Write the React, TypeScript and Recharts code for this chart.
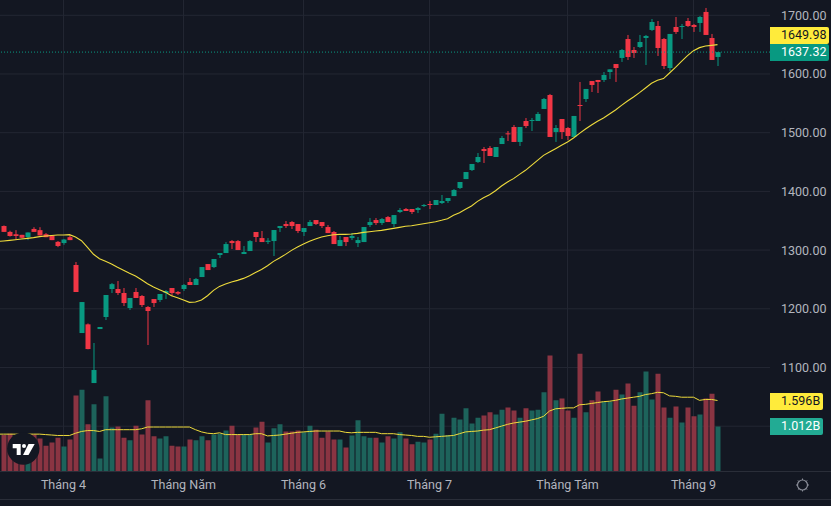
import React from "react";
import {
  ComposedChart,
  Bar,
  Line,
  Cell,
  XAxis,
  YAxis,
  CartesianGrid,
  ReferenceLine,
} from "recharts";

const opens = [
  1341, 1331, 1327, 1326, 1322, 1336, 1334, 1327, 1325, 1314,
  1312, 1322, 1274.6, 1158.7, 1173.5, 1073.5, 1165.5, 1186, 1233.7, 1233.7,
  1226.9, 1201.3, 1228.6, 1221.8, 1203, 1216.6, 1215, 1226.9, 1235.4, 1228.6,
  1233.7, 1245.6, 1240.5, 1254.1, 1276.2, 1271.1, 1291.6, 1295, 1315.4, 1315.4,
  1293.3, 1298.4, 1330.8, 1320.5, 1314, 1315.4, 1337.6, 1344.4, 1347.8, 1344.4,
  1330.8, 1341, 1351.2, 1347.8, 1339.3, 1330.8, 1306.9, 1322.3, 1320.5, 1312,
  1313.7, 1342.7, 1351.2, 1346.1, 1356.3, 1344.4, 1364.9, 1370, 1370, 1368.3,
  1375, 1378.5, 1376.8, 1380.2, 1383.6, 1392, 1405.8, 1421, 1436.4, 1450,
  1472.2, 1473.9, 1458.6, 1480.7, 1498.9, 1509.7, 1484.2, 1519.9, 1519.9, 1519.9,
  1540.4, 1564.2, 1501.2, 1523.3, 1508, 1492.7, 1547.2, 1557.4, 1588, 1589.8,
  1589.8, 1603.4, 1617, 1627.3, 1659.6, 1640.9, 1646, 1661.3, 1675, 1681.8,
  1659.6, 1610.2, 1680.1, 1680.1, 1690.3, 1683.5, 1686.9, 1705.7, 1661.3, 1629,
];
const closes = [
  1331, 1324, 1324, 1321, 1330, 1331, 1325, 1322, 1317, 1307,
  1318, 1317, 1228.6, 1211.5, 1131.4, 1095.7, 1169, 1223.5, 1242, 1226.9,
  1209.8, 1218.4, 1218.4, 1206.4, 1196.2, 1209.8, 1225.2, 1230.3, 1226.9, 1225.7,
  1240.5, 1240.5, 1250.7, 1271.1, 1266, 1284.8, 1295, 1310.3, 1312, 1300.1,
  1296.7, 1315.4, 1322.3, 1313.7, 1316, 1334.2, 1341, 1341, 1341, 1332.5,
  1337.6, 1347.8, 1344.4, 1341, 1329, 1310.3, 1317.1, 1313.7, 1324, 1317.1,
  1339.3, 1347.8, 1346.1, 1352.9, 1347.8, 1359.7, 1368.3, 1366.6, 1364.9, 1371.7,
  1376.8, 1376.8, 1385.3, 1383.6, 1388.7, 1402.3, 1416, 1433, 1446.7, 1458.6,
  1468.8, 1460.3, 1475.6, 1491, 1497.2, 1484.2, 1509.7, 1511.4, 1521.6, 1531.9,
  1557.4, 1492.7, 1508, 1501.2, 1494.4, 1528.5, 1545.5, 1574.5, 1581.3, 1586.4,
  1598.3, 1607.9, 1610.2, 1640.9, 1629, 1635.8, 1654.5, 1664.8, 1688.6, 1644.3,
  1613.6, 1668.2, 1671.6, 1681.8, 1681.8, 1680.1, 1697.1, 1666.5, 1623.9, 1637.32,
];
const highs = [
  1342, 1333, 1334, 1326, 1330, 1339, 1339, 1329, 1325, 1315.5,
  1319, 1326, 1279.7, 1211.5, 1175, 1141.7, 1169, 1223.5, 1243.9, 1247.3,
  1235.4, 1218.4, 1235.4, 1223.5, 1204.7, 1216.6, 1225.2, 1232, 1235.4, 1230.3,
  1242.2, 1252.4, 1252.4, 1271.1, 1276.2, 1284.8, 1295, 1313.7, 1317.1, 1317.1,
  1306.9, 1317, 1330.8, 1332.5, 1320.5, 1334.2, 1341, 1349.5, 1349.5, 1344.4,
  1337.6, 1351.2, 1351.2, 1347.8, 1342.7, 1332.5, 1324, 1322.3, 1329, 1322.3,
  1339.3, 1354.6, 1354.6, 1354.6, 1358, 1359.7, 1371.7, 1371.7, 1370, 1373.4,
  1378.5, 1383.6, 1385.3, 1393.8, 1388.7, 1404, 1416, 1433, 1446.7, 1465.4,
  1475.6, 1477.3, 1475.6, 1494.4, 1502.9, 1513.1, 1509.7, 1525, 1525, 1535.3,
  1559.1, 1566, 1513.1, 1523.3, 1509.7, 1528.5, 1586.4, 1574.5, 1588, 1589.8,
  1603.4, 1607.9, 1617, 1642.6, 1666.5, 1646, 1666.5, 1666.5, 1693.7, 1690.3,
  1661.3, 1668.2, 1697.1, 1685.2, 1695.4, 1685.2, 1698.8, 1712.5, 1668.2, 1637.32,
];
const lows = [
  1331, 1323, 1318, 1320, 1317, 1331, 1325, 1322, 1317, 1305,
  1309, 1317, 1228.6, 1158.7, 1131, 1073.5, 1165.5, 1180.9, 1226.9, 1223.5,
  1204.7, 1197.9, 1218.4, 1203, 1138.3, 1203, 1211.5, 1216.6, 1221.8, 1223.5,
  1230.3, 1240.5, 1240.5, 1254.1, 1266, 1269.4, 1286.5, 1295, 1301.8, 1300.1,
  1293.3, 1298.4, 1313.7, 1313.7, 1310.3, 1289.9, 1330.8, 1337.6, 1335.9, 1329,
  1324, 1341, 1342.7, 1337.6, 1329, 1310.3, 1306.9, 1306.9, 1317.1, 1305.2,
  1313.7, 1339.3, 1342.7, 1342.7, 1347.8, 1339.3, 1363.1, 1366.6, 1361.5, 1363.1,
  1373.4, 1370, 1376.8, 1378.5, 1380.2, 1392, 1404, 1421, 1434.7, 1448.4,
  1448.4, 1460.3, 1458.6, 1480.7, 1485.9, 1484.2, 1477.3, 1508, 1502.9, 1519.9,
  1540.4, 1492.7, 1484.2, 1489.3, 1487.6, 1492.7, 1519.9, 1552.3, 1569.3, 1567.6,
  1586.4, 1591.5, 1586.4, 1620.5, 1623.9, 1627.3, 1644.3, 1615.3, 1673.3, 1630.7,
  1608.5, 1605.1, 1668.2, 1659.6, 1680.1, 1671.6, 1671.6, 1666.5, 1623.9, 1613.6,
];
// volume in billions
const volumes = [
  0.82, 0.85, 0.78, 0.7, 0.62, 0.83, 0.74, 0.58, 0.65, 0.76,
  0.56, 0.72, 1.71, 1.84, 1.06, 1.51, 0.29, 1.69, 0.99, 1.01,
  0.76, 0.7, 1.03, 0.83, 1.6, 0.79, 0.74, 0.79, 0.58, 0.56,
  0.56, 0.72, 0.7, 0.79, 0.7, 0.83, 0.85, 0.92, 1.03, 0.83,
  0.83, 0.83, 0.99, 1.12, 0.65, 0.97, 1.06, 0.9, 0.9, 0.92,
  0.88, 1.03, 0.94, 0.76, 0.9, 0.72, 0.72, 0.54, 0.81, 1.15,
  0.79, 0.76, 0.76, 0.65, 0.79, 0.74, 0.88, 0.74, 0.61, 0.67,
  0.65, 0.72, 0.85, 1.3, 0.82, 1.21, 1.17, 1.42, 1.08, 1.21,
  1.26, 1.33, 1.28, 1.39, 1.44, 1.37, 1.21, 1.42, 1.37, 1.39,
  1.78, 2.61, 1.6, 1.64, 1.37, 1.21, 2.65, 1.33, 1.6, 1.8,
  1.57, 1.57, 1.84, 1.73, 1.98, 1.48, 1.78, 2.25, 1.62, 2.2,
  1.44, 1.21, 1.46, 1.1, 1.44, 1.24, 1.28, 1.64, 1.75, 1.012,
];
const priceMa = [
  1315.5, 1316.6, 1317.7, 1318.9, 1320, 1321.2, 1322.9, 1324, 1324.9, 1325.7,
  1325.7, 1326.3, 1322.3, 1316, 1304.7, 1292.8, 1285.4, 1280.8, 1276.3, 1270.6,
  1265.5, 1260.4, 1255.8, 1249.6, 1242.8, 1237.1, 1232.6, 1228, 1222.3, 1218.9,
  1215, 1211, 1211.5, 1214.9, 1222.3, 1231.4, 1238.2, 1242.2, 1245.6, 1248.4,
  1251.8, 1256.4, 1262, 1267.1, 1273.4, 1280.8, 1286.5, 1292.7, 1299.5, 1305.2,
  1310.3, 1314.9, 1318.8, 1322.3, 1324.5, 1326.2, 1326.8, 1326.8, 1327.4, 1328.5,
  1330.2, 1331.3, 1332.5, 1333.6, 1335.3, 1337, 1338.7, 1340.5, 1341.6, 1343.3,
  1345, 1346.7, 1348.4, 1350.7, 1353.5, 1359.2, 1363.7, 1369.4, 1375.1, 1383,
  1389.3, 1394.4, 1401.2, 1409.2, 1416, 1421.7, 1429, 1435.9, 1444.4, 1452.9,
  1461.4, 1467.1, 1472.8, 1478.5, 1484.2, 1491, 1498.9, 1506.3, 1513.1, 1519.4,
  1525, 1531.8, 1538.7, 1546.6, 1554, 1560.8, 1568.2, 1576.1, 1584.1, 1589.2,
  1592.1, 1601.7, 1611.4, 1621.6, 1631.2, 1639.8, 1644.9, 1647.7, 1648.8, 1649.98,
];
const volumeMa = [
  0.84, 0.84, 0.84, 0.84, 0.84, 0.84, 0.84, 0.83, 0.82, 0.81,
  0.81, 0.81, 0.86, 0.9, 0.92, 0.92, 0.9, 0.94, 0.94, 0.94,
  0.94, 0.94, 0.94, 0.96, 1, 1, 1, 1, 1, 1,
  1, 1, 0.94, 0.89, 0.86, 0.85, 0.87, 0.83, 0.83, 0.83,
  0.83, 0.83, 0.85, 0.85, 0.8, 0.81, 0.82, 0.84, 0.86, 0.88,
  0.89, 0.9, 0.91, 0.91, 0.91, 0.91, 0.91, 0.88, 0.87, 0.88,
  0.88, 0.88, 0.88, 0.85, 0.85, 0.85, 0.83, 0.82, 0.81, 0.79,
  0.79, 0.77, 0.78, 0.79, 0.8, 0.81, 0.85, 0.89, 0.9, 0.91,
  0.93, 0.94, 0.98, 1.02, 1.06, 1.09, 1.11, 1.13, 1.16, 1.19,
  1.24, 1.36, 1.41, 1.42, 1.43, 1.43, 1.5, 1.51, 1.53, 1.55,
  1.57, 1.58, 1.6, 1.63, 1.65, 1.67, 1.69, 1.73, 1.75, 1.78,
  1.77, 1.7, 1.69, 1.67, 1.67, 1.67, 1.6, 1.62, 1.62, 1.596,
];
// the averages run in from a session left of the visible window
const priceMaBefore = 1314.6;
const volumeMaBefore = 0.84;

const monthIndexes = [10, 30, 50, 71, 94, 115];
const monthLabels = ["Tháng 4", "Tháng Năm", "Tháng 6", "Tháng 7", "Tháng Tám", "Tháng 9"];
const priceTicks = [1100, 1200, 1300, 1400, 1500, 1600, 1700];
const gridPrices = [1000, ...priceTicks];

const WIDTH = 831;
const HEIGHT = 506;
const BG = "#131722";
const GRID = "#232733";
const UP = "#089981";
const DOWN = "#f23645";
const UP_VOL = "#1d635b";
const DOWN_VOL = "#8a3442";
const MA = "#ffeb3b";
const MA_LINE = "#eedb3c";
const TEXT = "#b2b5be";
const FONT = "Roboto, sans-serif";

const data: any[] = [
  { idx: -1, priceMa: priceMaBefore, volumeMa: volumeMaBefore },
  ...opens.map((open, i) => ({
    idx: i,
    open,
    close: closes[i],
    high: highs[i],
    low: lows[i],
    range: [lows[i], highs[i]],
    volume: volumes[i],
    priceMa: priceMa[i],
    volumeMa: volumeMa[i],
  })),
];

const lastClose = closes[closes.length - 1];
const lastPriceMa = priceMa[priceMa.length - 1];
const lastVolume = volumes[volumes.length - 1];
const lastVolumeMa = volumeMa[volumeMa.length - 1];

// x, y, height come from the bar's [low, high] range, open/close are placed on the same scale
function Candle(props: any) {
  const { x, y, width, height, payload } = props;
  if (payload.open == null) return null;
  const { open, close, high, low } = payload;
  const up = close >= open;
  const color = up ? UP : DOWN;
  const perUnit = height / Math.max(high - low, 0.001);
  const top = y + (high - Math.max(open, close)) * perUnit;
  const bodyH = Math.max(Math.abs(open - close) * perUnit, 1);
  const cx = x + width / 2;
  return (
    <g>
      <line x1={cx} x2={cx} y1={y} y2={y + height} stroke={color} strokeWidth={1} />
      <rect x={x} y={top} width={width} height={bodyH} fill={color} />
    </g>
  );
}

function Tag({ top, bg, color, right, text }: { top: number; bg: string; color: string; right: number; text: string }) {
  return (
    <div
      style={{
        position: "absolute",
        left: 770,
        top,
        width: right - 770,
        height: 17,
        lineHeight: "17px",
        background: bg,
        color,
        font: `12.5px ${FONT}`,
        paddingLeft: 11,
        boxSizing: "border-box",
        borderRadius: "0 2px 2px 0",
      }}
    >
      {text}
    </div>
  );
}

export default function App() {
  return (
    <div style={{ position: "absolute", left: 0, top: 0, width: WIDTH, height: HEIGHT, background: BG, overflow: "hidden" }}>
      <ComposedChart width={WIDTH} height={HEIGHT} data={data} margin={{ top: 0, right: 0, bottom: 0, left: 0 }}>
        <CartesianGrid
          xAxisId="price"
          yAxisId="price"
          stroke={GRID}
          horizontalValues={gridPrices}
          verticalValues={monthIndexes}
        />
        <XAxis
          xAxisId="price"
          dataKey="idx"
          type="number"
          domain={[-0.5833, 127.75]}
          allowDataOverflow
          ticks={monthIndexes}
          interval={0}
          height={34.5}
          axisLine={false}
          tickLine={false}
          tickMargin={3}
          tick={{ fill: TEXT, fontSize: 12.5, fontFamily: FONT }}
          tickFormatter={(v: number) => monthLabels[monthIndexes.indexOf(v)] ?? ""}
        />
        <XAxis xAxisId="volume" dataKey="idx" type="number" domain={[-0.5833, 127.75]} allowDataOverflow hide />
        <YAxis
          yAxisId="price"
          orientation="right"
          domain={[922.8, 1726.06]}
          allowDataOverflow
          ticks={priceTicks}
          interval={0}
          width={61}
          axisLine={false}
          tickLine={false}
          tickMargin={5}
          tick={{ fill: TEXT, fontSize: 12.5, fontFamily: FONT }}
          tickFormatter={(v: number) => v.toFixed(2)}
        />
        <YAxis yAxisId="volume" domain={[0, 10.6]} allowDataOverflow hide />
        <Bar xAxisId="volume" yAxisId="volume" dataKey="volume" barSize={5} isAnimationActive={false}>
          {data.map((d) => (
            <Cell key={d.idx} fill={d.close >= d.open ? UP_VOL : DOWN_VOL} />
          ))}
        </Bar>
        <Line
          xAxisId="volume"
          yAxisId="volume"
          dataKey="volumeMa"
          stroke={MA_LINE}
          strokeWidth={1}
          dot={false}
          activeDot={false}
          isAnimationActive={false}
        />
        <ReferenceLine xAxisId="price" yAxisId="price" y={lastClose} stroke={UP} strokeDasharray="1 2" />
        <Bar xAxisId="price" yAxisId="price" dataKey="range" barSize={5} shape={Candle} isAnimationActive={false} />
        <Line
          xAxisId="price"
          yAxisId="price"
          dataKey="priceMa"
          stroke={MA_LINE}
          strokeWidth={1.1}
          dot={false}
          activeDot={false}
          isAnimationActive={false}
        />
      </ComposedChart>

      <div style={{ position: "absolute", left: 0, top: 471, width: WIDTH, height: 1, background: "#2a2e39" }} />
      <div style={{ position: "absolute", left: 0, top: 499, width: WIDTH, height: 1, background: "#2a2e39" }} />

      <Tag top={27} bg={MA} color="#131722" right={829} text={lastPriceMa.toFixed(2)} />
      <Tag top={44} bg={UP} color="#ffffff" right={829} text={lastClose.toFixed(2)} />
      <Tag top={393} bg={MA} color="#131722" right={823} text={`${lastVolumeMa.toFixed(3)}B`} />
      <Tag top={418} bg="#22ab94" color="#ffffff" right={823} text={`${lastVolume.toFixed(3)}B`} />

      <svg width={WIDTH} height={HEIGHT} style={{ position: "absolute", left: 0, top: 0, pointerEvents: "none" }}>
        <circle cx={23.3} cy={448.6} r={16.2} fill="#131722" />
        <path d="M12.7 444H20.7V455H16.7V448.3H12.7Z" fill="#fff" />
        <circle cx={24} cy={446} r={2} fill="#fff" />
        <path d="M28.5 444H34.7L28.5 455H23Z" fill="#fff" />
        <g stroke="#8a8d98" fill="none">
          <circle cx={802.5} cy={485} r={5} strokeWidth={1.2} />
          <path d="M802.5 478.5V480M802.5 490V491.5M796 485H797.5M807.5 485H809M797.9 480.4L799 481.5M806 488.5L807.1 489.6M807.1 480.4L806 481.5M799 488.5L797.9 489.6" />
        </g>
      </svg>
    </div>
  );
}
